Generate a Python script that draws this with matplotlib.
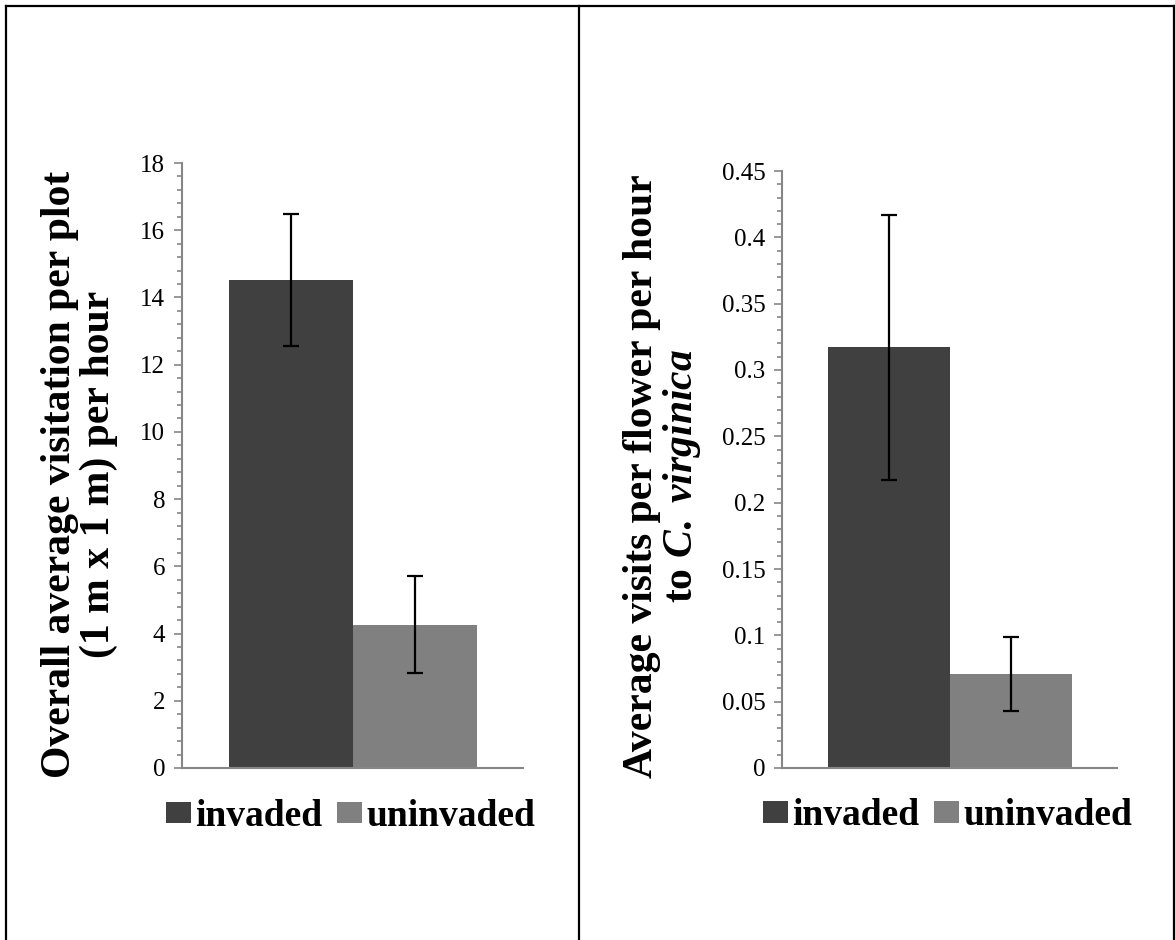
import matplotlib
matplotlib.use("Agg")
import matplotlib.pyplot as plt
from matplotlib.lines import Line2D
from matplotlib.ticker import MultipleLocator, FuncFormatter

plt.rcParams['font.family'] = ['Liberation Serif', 'DejaVu Serif']
plt.rcParams['mathtext.fontset'] = 'custom'
plt.rcParams['mathtext.it'] = 'Liberation Serif:style=italic:weight=bold'
plt.rcParams['mathtext.rm'] = 'Liberation Serif:weight=bold'

groups = ['invaded', 'uninvaded']
colors = ['#404040', '#808080']

# overall visitation per plot per hour
visit_mean = [14.52, 4.26]
visit_err = [1.96, 1.44]

# visits per flower per hour to C. virginica
flower_mean = [0.317, 0.071]
flower_err = [0.100, 0.028]

W, H = 1175, 940
fig = plt.figure(figsize=(W / 100, H / 100), dpi=100)

ax1 = fig.add_axes([182 / W, 1 - 768 / H, 341 / W, 605 / H])
ax2 = fig.add_axes([782 / W, 1 - 768 / H, 335 / W, 597 / H])

spine_col = '#868686'


def draw_panel(ax, means, errs, ymax, major, minor, ylabel, label_x, label_y):
    for i, g in enumerate(groups):
        ax.bar(i, means[i], width=1.0, color=colors[i], label=g,
               yerr=errs[i], capsize=6,
               error_kw=dict(ecolor='black', elinewidth=1.6, capthick=1.6))
    ax.set_xlim(-0.877, 1.872)
    ax.set_ylim(0, ymax)
    ax.yaxis.set_major_locator(MultipleLocator(major))
    ax.yaxis.set_minor_locator(MultipleLocator(minor))
    ax.yaxis.set_major_formatter(FuncFormatter(lambda v, p: '{:g}'.format(round(v, 4))))
    ax.tick_params(axis='y', which='major', length=6, width=1.2, color=spine_col,
                   labelsize=18, pad=6)
    ax.tick_params(axis='y', which='minor', length=3.5, width=1.2, color=spine_col)
    ax.tick_params(axis='x', which='both', bottom=False, labelbottom=False)
    for s in ['top', 'right']:
        ax.spines[s].set_visible(False)
    for s in ['left', 'bottom']:
        ax.spines[s].set_color(spine_col)
        ax.spines[s].set_linewidth(1.5)
    ax.text(label_x, label_y, ylabel, transform=ax.transAxes, rotation=90,
            ha='center', va='center', multialignment='center',
            fontsize=30, fontweight='bold', linespacing=1.0)
    ax.legend(loc='center', bbox_to_anchor=(0.495, -0.08), ncol=2,
              frameon=False, prop=dict(size=27, weight='bold'),
              handlelength=0.65, handleheight=0.5, handletextpad=0.12,
              columnspacing=0.4, borderpad=0, borderaxespad=0)


draw_panel(ax1, visit_mean, visit_err, 18, 2, 0.4,
           'Overall average visitation per plot\n(1 m x 1 m) per hour', -0.3, 0.486)
draw_panel(ax2, flower_mean, flower_err, 0.45, 0.05, 0.01,
           'Average visits per flower per hour\nto $\\mathit{C.\\ virginica}$', -0.355, 0.489)

# panel frame lines
lw = 1.6
fig.add_artist(Line2D([6 / W, 6 / W], [0, 1 - 6 / H], color='black', lw=lw,
                      transform=fig.transFigure))
fig.add_artist(Line2D([6 / W, 1174 / W], [1 - 6 / H, 1 - 6 / H], color='black', lw=lw,
                      transform=fig.transFigure))
fig.add_artist(Line2D([1174 / W, 1174 / W], [0, 1 - 6 / H], color='black', lw=lw,
                      transform=fig.transFigure))
fig.add_artist(Line2D([578.5 / W, 578.5 / W], [0, 1 - 6 / H], color='black', lw=lw,
                      transform=fig.transFigure))

fig.savefig('out.png', dpi=100)
